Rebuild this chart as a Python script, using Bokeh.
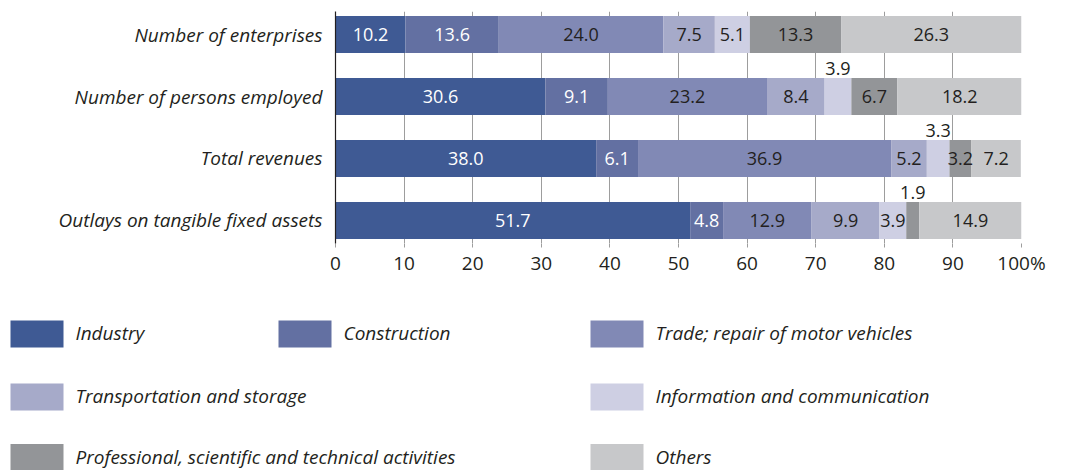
from bokeh.plotting import figure
from bokeh.models import ColumnDataSource, FactorRange, Range1d, FixedTicker
from bokeh.core.properties import value
from bokeh.embed import file_html
from bokeh.resources import INLINE

# ---------------- data ----------------
categories = ["Number of enterprises", "Number of persons employed",
              "Total revenues", "Outlays on tangible fixed assets"]
sectors = ["Industry", "Construction", "Trade; repair of motor vehicles",
           "Transportation and storage", "Information and communication",
           "Professional, scientific and technical activities", "Others"]
industry = [10.2, 30.6, 38.0, 51.7]
construction = [13.6, 9.1, 6.1, 4.8]
trade = [24.0, 23.2, 36.9, 12.9]
transport = [7.5, 8.4, 5.2, 9.9]
information = [5.1, 3.9, 3.3, 3.9]
professional = [13.3, 6.7, 3.2, 1.9]
others = [26.3, 18.2, 7.2, 14.9]
colors = ["#3f5a94", "#6370a2", "#8189b5", "#a6aac9", "#cecfe3", "#939598", "#c7c8ca"]
label_colors = ["#ffffff", "#ffffff", "#231f20", "#231f20", "#231f20", "#231f20", "#231f20"]
tick_values = [0, 10, 20, 30, 40, 50, 60, 70, 80, 90, 100]
tick_labels = ["0", "10", "20", "30", "40", "50", "60", "70", "80", "90", "100%"]
labels_above = [("Number of persons employed", "Information and communication"),
                ("Total revenues", "Information and communication"),
                ("Outlays on tangible fixed assets",
                 "Professional, scientific and technical activities")]

series = [industry, construction, trade, transport, information, professional, others]
TEXT = "#231f20"
FONT = "Open Sans"

# ---------------- bar chart ----------------
keys = ["s%d" % i for i in range(len(sectors))]
data = {"cat": categories}
for k, s in zip(keys, series):
    data[k] = s
src = ColumnDataSource(data)

W = 1060
p = figure(width=W, height=283, output_backend="svg", toolbar_location=None,
           x_range=Range1d(0, 100),
           y_range=FactorRange(*reversed(categories), range_padding=-0.0645,
                               range_padding_units="percent"),
           min_border_left=335, min_border_right=W - 1021, min_border_top=11,
           min_border_bottom=40)
p.outline_line_color = None
p.background_fill_color = "white"
p.border_fill_color = "white"

p.hbar_stack(keys, y="cat", height=37 / 62, color=colors, line_color=None, source=src)

# value labels
lx, ly, lt, lc, lo = [], [], [], [], []
for i, cat in enumerate(categories):
    left = 0.0
    for j, s in enumerate(series):
        v = s[i]
        lx.append(left + v / 2)
        ly.append(cat)
        lt.append("%.1f" % v)
        above = (cat, sectors[j]) in labels_above
        lc.append(TEXT if above else label_colors[j])
        lo.append(-28 if above else 0)
        left += v
lab_src = ColumnDataSource(dict(x=lx, y=ly, text=lt, color=lc, yoff=lo))
p.text(x="x", y="y", text="text", source=lab_src, text_color="color", y_offset="yoff",
       text_align="center", text_baseline="middle", text_font=value(FONT),
       text_font_size="18px")

ticker = FixedTicker(ticks=tick_values)
p.xaxis.ticker = ticker
p.xaxis.major_label_overrides = {t: l for t, l in zip(tick_values, tick_labels)}
p.xaxis.axis_line_color = None
p.xaxis.major_tick_line_color = "#9d9d9d"
p.xaxis.major_tick_in = 0
p.xaxis.major_tick_out = 4
p.xaxis.minor_tick_line_color = None
p.xaxis.major_label_standoff = 2
p.xaxis.major_label_text_font = FONT
p.xaxis.major_label_text_font_size = "19px"
p.xaxis.major_label_text_color = TEXT

p.xgrid.ticker = ticker
p.xgrid.grid_line_color = "#9d9d9d"
p.xgrid.grid_line_width = 1
p.ygrid.grid_line_color = None

p.yaxis.axis_line_color = TEXT
p.yaxis.axis_line_width = 1.2
p.yaxis.major_tick_line_color = None
p.yaxis.minor_tick_line_color = None
p.yaxis.major_label_standoff = 7
p.yaxis.major_label_text_font = FONT
p.yaxis.major_label_text_font_style = "italic"
p.yaxis.major_label_text_font_size = "19px"
p.yaxis.major_label_text_color = TEXT

# ---------------- legend ----------------
LH = 187
leg = figure(width=W, height=LH, output_backend="svg", toolbar_location=None,
             x_range=Range1d(0, W), y_range=Range1d(LH, 0),
             min_border=0, min_border_left=0, min_border_right=0,
             min_border_top=0, min_border_bottom=0)
leg.outline_line_color = None
leg.axis.visible = False
leg.grid.visible = False

col_sw = [10, 278, 590]
col_tx = [75, 343, 655]
row_y = [50.5, 113.5, 174.0]
slots = [(0, 0), (0, 1), (0, 2), (1, 0), (1, 2), (2, 0), (2, 2)]
sx = [col_sw[c] + 26.5 for r, c in slots]
sy = [row_y[r] for r, c in slots]
tx = [col_tx[c] for r, c in slots]
leg_src = ColumnDataSource(dict(sx=sx, sy=sy, tx=tx, ty=[y - 1 for y in sy],
                                color=colors, name=sectors))
leg.rect(x="sx", y="sy", width=53, height=27, color="color", line_color=None, source=leg_src)
leg.text(x="tx", y="ty", text="name", source=leg_src, text_color=TEXT,
         text_align="left", text_baseline="middle", text_font=value(FONT),
         text_font_style="italic", text_font_size="19px")

open("out.html", "w").write(file_html([p, leg], INLINE))
